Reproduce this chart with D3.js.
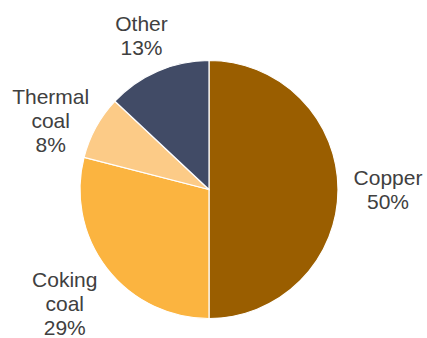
<!DOCTYPE html>
<html>
<head>
<meta charset="utf-8">
<script src="https://cdn.jsdelivr.net/npm/d3@7"></script>
<style>
  html, body { margin: 0; padding: 0; background: #ffffff; }
  svg { display: block; }
</style>
</head>
<body>
<svg id="chart" width="427" height="338"></svg>
<script>
// ---- data ----
const categories = ["Copper", "Coking coal", "Thermal coal", "Other"];
const labelLines = [["Copper"], ["Coking", "coal"], ["Thermal", "coal"], ["Other"]];
const values = [50, 29, 8, 13];
const colors = ["#9a5e00", "#fbb440", "#fccb87", "#414b66"];

// ---- layout ----
const W = 427, H = 338;
const cx = 209, cy = 189.5, R = 129;
const labelRadius = 175;
const labelNudge = [[4, -0.5], [-6, 7], [-5, 15], [2, 6.6]];
const fontSize = 21, lineH = 24, capH = 15;

const svg = d3.select("#chart");
const g = svg.append("g").attr("transform", `translate(${cx},${cy})`);

const pie = d3.pie().sort(null).value(d => d)(values);
const arc = d3.arc().innerRadius(0).outerRadius(R);
const labelArc = d3.arc().innerRadius(labelRadius).outerRadius(labelRadius);

g.selectAll("path.slice")
  .data(pie)
  .join("path")
  .attr("class", "slice")
  .attr("d", arc)
  .attr("fill", (d, i) => colors[i])
  .attr("stroke", "#ffffff")
  .attr("stroke-width", 1.2);

const labels = g.selectAll("text.lbl")
  .data(pie)
  .join("text")
  .attr("class", "lbl")
  .attr("font-family", "'Liberation Sans', Arial, sans-serif")
  .attr("font-size", fontSize)
  .attr("fill", "#404040")
  .attr("text-anchor", "middle");

labels.each(function(d, i) {
  const [bx, by] = labelArc.centroid(d);
  const x = bx + labelNudge[i][0];
  const yc = by + labelNudge[i][1];
  const lines = labelLines[i].concat([Math.round(values[i]) + "%"]);
  const n = lines.length;
  const firstBase = yc - ((n - 1) * lineH + capH) / 2 + capH;
  d3.select(this).selectAll("tspan")
    .data(lines)
    .join("tspan")
    .attr("x", x)
    .attr("y", (t, k) => firstBase + k * lineH)
    .text(t => t);
});
</script>
</body>
</html>
